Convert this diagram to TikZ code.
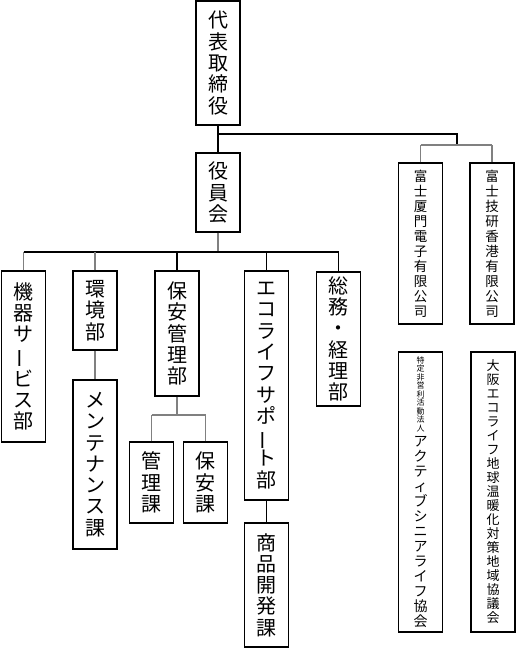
\documentclass[tikz,border=0pt]{standalone}
\usepackage{fontspec}
\setmainfont{Noto Sans CJK JP}
\newcommand\chonvert{\rotatebox[origin=c]{90}{ー}}
\tikzset{
  box/.style={draw=black, line width=1.1pt, inner sep=0pt, text width=44pt, align=center, minimum width=44pt},
  big/.style={font=\fontsize{20}{21.3}\selectfont},
  mid/.style={font=\fontsize{13.5}{15}\selectfont},
  sml/.style={font=\fontsize{13}{14}\selectfont},
  bl/.style={draw=black, line width=1.1pt},
  gl/.style={draw=black!50, line width=1.4pt},
}
\begin{document}
\begin{tikzpicture}[x=1pt,y=-1pt]
\useasboundingbox (0,0) rectangle (516,650);
% boxes
\node[box,big,minimum height=124pt] (rep) at (218,63) {代\\表\\取\\締\\役};
\node[box,big,minimum height=79pt] (yaku) at (218,192.5) {役\\員\\会};
\node[box,mid,minimum height=161pt] (fuji1) at (420.5,243.5) {富\\士\\厦\\門\\電\\子\\有\\限\\公\\司};
\node[box,mid,minimum height=161pt] (fuji2) at (492,243.5) {富\\士\\技\\研\\香\\港\\有\\限\\公\\司};
\node[box,big,minimum height=171pt] (kiki) at (23.5,356.5) {機\\器\\サ\\\chonvert\\ビ\\ス\\部};
\node[box,big,minimum height=79pt] (kankyo) at (95,310.5) {環\\境\\部};
\node[box,big,minimum height=169pt] (mente) at (95,464.5) {メ\\ン\\テ\\ナ\\ン\\ス\\課};
\node[box,big,minimum height=125pt] (hoan) at (177,333.5) {保\\安\\管\\理\\部};
\node[box,big,minimum height=81pt] (kanri) at (151.5,482.5) {管\\理\\課};
\node[box,big,minimum height=81pt] (hoanka) at (205.5,482.5) {保\\安\\課};
\node[box,big,minimum height=229pt] (eco) at (266.5,385.5) {エ\\コ\\ラ\\イ\\フ\\サ\\ポ\\\chonvert\\ト\\部};
\node[box,big,minimum height=124pt] (shohin) at (266.5,585) {商\\品\\開\\発\\課};
\node[box,big,minimum height=134pt] (somu) at (338.5,339) {総\\務\\・\\経\\理\\部};
\node[box,minimum height=280pt] (npo) at (420.5,492) {{\fontsize{8}{8.5}\selectfont 特\\定\\非\\営\\利\\活\\動\\法\\人\par}{\fontsize{14}{15}\selectfont ア\\ク\\テ\\ィ\\ブ\\シ\\ニ\\ア\\ラ\\イ\\フ\\協\\会\par}};
\node[box,sml,minimum height=280pt] (osaka) at (493,492) {大\\阪\\エ\\コ\\ラ\\イ\\フ\\地\\球\\温\\暖\\化\\対\\策\\地\\域\\協\\議\\会};
% top connectors
\coordinate (t1) at (218,134);
\coordinate (t2) at (457,134);
\coordinate (t3) at (457,145);
\draw[bl] (rep.south) -- (yaku.north);
\draw[bl] (t1) -- (t2) -- (t3);
\draw[gl] (fuji1.north |- t3) -- (fuji2.north |- t3);
\draw[gl] (fuji1.north) -- (fuji1.north |- t3);
\draw[gl] (fuji2.north) -- (fuji2.north |- t3);
% main bus
\coordinate (bus) at (218,252);
\draw[gl] (yaku.south) -- (bus);
\draw[bl] (kiki.north |- bus) -- (somu.north |- bus);
\draw[gl] (kiki.north) -- (kiki.north |- bus);
\draw[gl] (kankyo.north) -- (kankyo.north |- bus);
\draw[bl] (hoan.north) -- (hoan.north |- bus);
\draw[bl] (eco.north) -- (eco.north |- bus);
\draw[bl] (somu.north) -- (somu.north |- bus);
\draw[gl] (kankyo.south) -- (mente.north);
\draw[bl] (eco.south) -- (shohin.north);
% hoan sub-bus
\coordinate (sb) at (177,415);
\draw[gl] (hoan.south) -- (sb);
\draw[gl] (kanri.north |- sb) -- (hoanka.north |- sb);
\draw[gl] (kanri.north) -- (kanri.north |- sb);
\draw[gl] (hoanka.north) -- (hoanka.north |- sb);
\end{tikzpicture}
\end{document}
